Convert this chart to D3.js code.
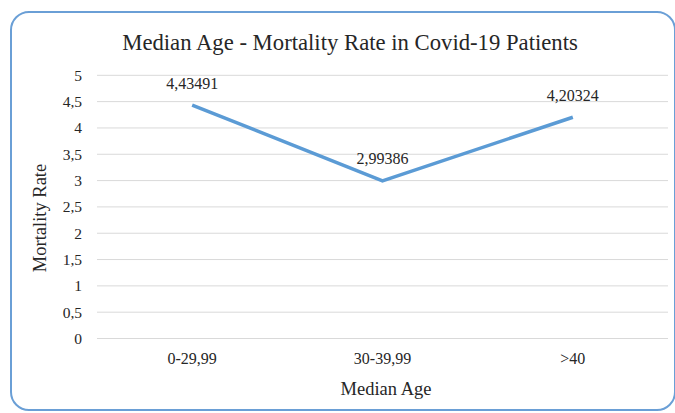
<!DOCTYPE html>
<html><head><meta charset="utf-8">
<script src="https://cdn.jsdelivr.net/npm/d3@7"></script>
<style>body{margin:0;background:#fff}svg{display:block}svg text{font-family:"Liberation Serif","Times New Roman","DejaVu Serif",serif !important;fill:#262626}</style>
</head><body>
<script>
const categories = ["0-29,99", "30-39,99", ">40"];
const values = [4.43491, 2.99386, 4.20324];
const valueLabels = ["4,43491", "2,99386", "4,20324"];
const yTicks = [0, 0.5, 1, 1.5, 2, 2.5, 3, 3.5, 4, 4.5, 5];
const yTickLabels = ["0", "0,5", "1", "1,5", "2", "2,5", "3", "3,5", "4", "4,5", "5"];
const title = "Median Age - Mortality Rate in Covid-19 Patients";
const xTitle = "Median Age";
const yTitle = "Mortality Rate";

(function () {
const W = 675, H = 413;
const svg = d3.select("body").append("svg").attr("width", W).attr("height", H);

svg.append("rect").attr("x", 11).attr("y", 12).attr("width", 664).attr("height", 398)
  .attr("rx", 18).attr("ry", 18).attr("fill", "#fff").attr("stroke", "#6a9fd6").attr("stroke-width", 2);

const pl = 97, pr = 668, pt = 75.3, pb = 338.5;
const x = d3.scaleBand().domain(categories).range([pl, pr]);
const y = d3.scaleLinear().domain([0, 5]).range([pb, pt]);

svg.append("g").selectAll("line").data(yTicks).join("line")
  .attr("x1", pl).attr("x2", pr)
  .attr("y1", d => y(d)).attr("y2", d => y(d))
  .attr("stroke", "#d9d9d9").attr("stroke-width", 1);

const yAxis = d3.axisLeft(y).tickValues(yTicks).tickFormat((d, i) => yTickLabels[i]).tickSize(0).tickPadding(15);
const gy = svg.append("g").attr("transform", `translate(${pl},0)`).call(yAxis);
gy.select(".domain").remove();
gy.selectAll("text").attr("font-size", 15.5).attr("fill", "#262626");

const xAxis = d3.axisBottom(x).tickSize(0).tickPadding(14);
const gx = svg.append("g").attr("transform", `translate(0,${pb})`).call(xAxis);
gx.select(".domain").remove();
gx.selectAll("text").attr("font-size", 16).attr("fill", "#262626");

const line = d3.line().x((d, i) => x(categories[i]) + x.bandwidth() / 2).y(d => y(d));
svg.append("path").datum(values).attr("d", line)
  .attr("fill", "none").attr("stroke", "#5b9bd5").attr("stroke-width", 3.5).attr("stroke-linejoin", "round");

svg.append("g").selectAll("text").data(values).join("text")
  .attr("x", (d, i) => x(categories[i]) + x.bandwidth() / 2)
  .attr("y", d => y(d) - 16.5)
  .attr("text-anchor", "middle").attr("font-size", 16)
  .text((d, i) => valueLabels[i]);

svg.append("text").attr("x", 350).attr("y", 50).attr("text-anchor", "middle").attr("font-size", 22.7).text(title);
svg.append("text").attr("x", 386).attr("y", 395).attr("text-anchor", "middle").attr("font-size", 18.5).text(xTitle);
svg.append("text").attr("transform", "translate(46,218) rotate(-90)").attr("text-anchor", "middle").attr("font-size", 18.5).text(yTitle);
})();
</script>
</body></html>
